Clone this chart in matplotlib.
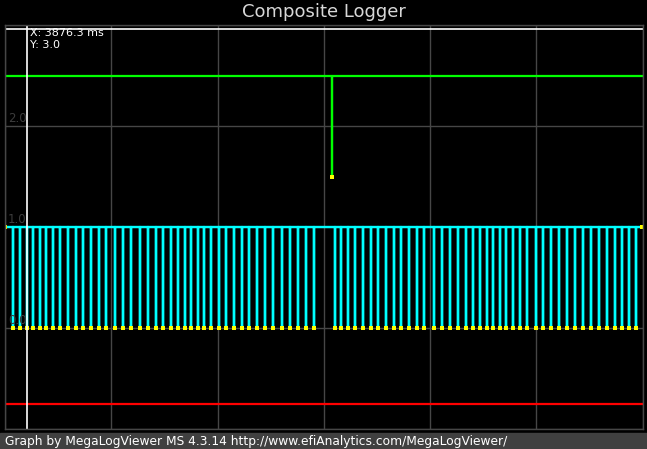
import matplotlib
matplotlib.use("Agg")
import matplotlib.pyplot as plt
from matplotlib.patches import Rectangle

# ------------------ data (ms / signal level) ------------------
t_start = 3866.0
t_end = 4166.0

# crank teeth (falling edges on the cyan trace)
crank_teeth = [
    3869.6, 3873.1, 3876.2, 3879.2, 3882.5, 3885.3, 3888.4, 3891.9, 3895.6, 3899.4,
    3902.7, 3906.5, 3910.2, 3913.5, 3917.8, 3921.5, 3925.3, 3929.5, 3933.3, 3937.1,
    3940.4, 3944.1, 3947.4, 3950.7, 3953.5, 3956.8, 3959.6, 3962.9, 3966.7, 3970.0,
    3973.8, 3977.5, 3980.8, 3984.6, 3988.4, 3992.1, 3996.4, 4000.1, 4003.9, 4007.7,
    4011.4, 4021.3, 4024.1, 4027.4, 4030.7, 4034.5, 4038.2, 4041.5, 4045.3, 4049.1,
    4052.4, 4056.1, 4059.9, 4063.2, 4067.9, 4071.7, 4075.4, 4079.2, 4083.0, 4086.2,
    4089.5, 4092.8, 4095.7, 4099.0, 4101.8, 4105.1, 4108.4, 4111.7, 4115.9, 4119.2,
    4123.0, 4126.7, 4130.5, 4134.2, 4138.0, 4141.8, 4145.5, 4149.3, 4153.1, 4156.4,
    4159.7, 4163.0,
]
crank_high = 1.0
crank_low = 0.0

# cam tooth (green trace)
cam_teeth = [4019.7]
cam_high = 2.5
cam_low = 1.5

# other trace (red)
red_level = -0.75

cursor_x = 3876.3
cursor_y = 2.96
y_labels = [0.0, 1.0, 2.0]

# ------------------ figure ------------------
W, H = 647, 449
fig = plt.figure(figsize=(W / 100, H / 100), dpi=100, facecolor="black")
ax = fig.add_axes([5 / W, 20 / H, 637.5 / W, 404 / H])
ax.set_facecolor("black")
ax.set_xlim(t_start, t_end)
ax.set_ylim(-1.0, 3.0)

grid_c = "#464646"
ax.set_xticks([t_start + 50 * i for i in range(7)])
ax.set_yticks([-1, 0, 1, 2, 3])
ax.tick_params(length=0, labelbottom=False, labelleft=False)
ax.grid(True, color=grid_c, linewidth=1.0)
for s in ax.spines.values():
    s.set_color(grid_c)
    s.set_linewidth(1.0)

for v in y_labels:
    ax.text(t_start + 1.4, v + 0.01, f"{v:.1f}", color="#3c3c3c", fontsize=8.5,
            ha="left", va="bottom")

# red
ax.plot([t_start, t_end], [red_level, red_level], color="#ff0000", lw=1.6)

# green cam trace
gx, gy = [t_start], [cam_high]
for t in cam_teeth:
    gx += [t, t, t]
    gy += [cam_high, cam_low, cam_high]
gx.append(t_end)
gy.append(cam_high)
ax.plot(gx, gy, color="#00ff00", lw=1.6)

# cyan crank trace
cx, cy = [t_start], [crank_high]
for t in crank_teeth:
    cx += [t, t, t]
    cy += [crank_high, crank_low, crank_high]
cx.append(t_end - 0.3)
cy.append(crank_high)
ax.plot(cx, cy, color="#00ffff", lw=1.7)

# sample markers
ax.plot(crank_teeth, [crank_low] * len(crank_teeth), ls="none", marker="s",
        ms=2.2, color="#ffff00", mew=0)
ax.plot([t_start, t_end - 0.3], [crank_high, crank_high], ls="none", marker="s",
        ms=2.6, color="#ffff00", mew=0)
ax.plot(cam_teeth, [cam_low] * len(cam_teeth), ls="none", marker="s",
        ms=2.2, color="#ffff00", mew=0)

# cursor
ax.axvline(cursor_x, color="white", lw=1.2)
ax.axhline(cursor_y, color="white", lw=1.2)
ax.text(cursor_x + 1.3, 2.975, f"X: {cursor_x:.1f} ms", color="white",
        fontsize=8, ha="left", va="top")
ax.text(cursor_x + 1.3, 2.855, "Y: 3.0", color="white",
        fontsize=8, ha="left", va="top")

# title
fig.text(0.5, 1 - 12 / H, "Composite Logger", color="#d8d8d8", fontsize=13,
         ha="center", va="center")

# footer bar
fig.patches.append(Rectangle((0, 0), 1, 16 / H, transform=fig.transFigure,
                             color="#404040", zorder=0))
fig.text(5 / W, 8 / H, "Graph by MegaLogViewer MS 4.3.14 http://www.efiAnalytics.com/MegaLogViewer/",
         color="white", fontsize=8.8, ha="left", va="center")

fig.savefig("out.png", dpi=100, facecolor="black")
